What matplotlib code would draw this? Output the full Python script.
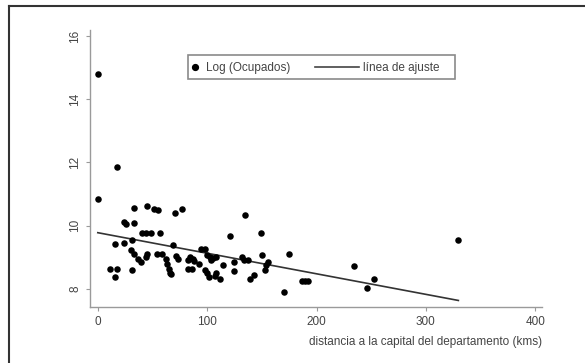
import numpy as np
import matplotlib.pyplot as plt
from matplotlib.lines import Line2D
from matplotlib.patches import Rectangle

plt.rcParams['font.family'] = ['Liberation Sans', 'DejaVu Sans']

# distancia a la capital (kms) y log de ocupados por municipio
distancia = [0, 0, 17.4, 15.7, 11.6, 17.4, 15.7, 23.9, 25.9, 32.8,
             33.4, 23.9, 31.7, 30.0, 33.4, 36.9, 39.6, 43.7, 44.7, 31.7,
             40.3, 44.4, 48.8, 44.7, 51.5, 55.3, 57.3, 53.9, 58.4, 62.5,
             63.5, 64.8, 65.9, 66.9, 70.3, 76.8, 68.6, 71.7, 73.7, 82.9,
             84.6, 87.0, 88.1, 82.9, 85.7, 92.5, 94.2, 97.6, 100.0, 102.7,
             105.1, 107.8, 103.4, 97.6, 100.0, 101.7, 106.8, 108.5, 111.3, 114.7,
             120.5, 124.6, 124.6, 131.7, 134.8, 134.1, 136.9, 139.2, 142.7, 149.5,
             150.5, 152.9, 153.9, 155.3, 170.0, 175.1, 187.0, 189.8, 192.2, 234.1,
             246.1, 252.6, 329.7]
log_ocupados = [14.80, 10.83, 11.86, 9.41, 8.64, 8.64, 8.38, 10.12, 10.05, 10.09,
                10.56, 9.46, 9.56, 9.22, 9.12, 8.96, 8.85, 9.01, 9.12, 8.61,
                9.77, 9.77, 9.77, 10.62, 10.54, 10.49, 9.77, 9.12, 9.12, 8.96,
                8.80, 8.64, 8.51, 8.46, 10.41, 10.52, 9.40, 9.03, 8.96, 8.91,
                9.01, 8.96, 8.88, 8.64, 8.64, 8.80, 9.28, 9.28, 9.07, 9.01,
                8.99, 9.01, 8.91, 8.61, 8.49, 8.38, 8.40, 8.49, 8.30, 8.75,
                9.69, 8.85, 8.57, 9.01, 10.33, 8.91, 8.93, 8.30, 8.43, 9.78,
                9.07, 8.59, 8.75, 8.85, 7.90, 9.10, 8.25, 8.25, 8.25, 8.72,
                8.04, 8.33, 9.54]

# recta de ajuste
ajuste_intercepto = 9.78
ajuste_pendiente = -0.0065

xticks = [0, 100, 200, 300, 400]
yticks = [8, 10, 12, 14, 16]

W, H = 585, 363
fig = plt.figure(figsize=(W / 100, H / 100), dpi=100)
ax = fig.add_axes([89.5 / W, 1 - 307 / H, (541.8 - 89.5) / W, (307 - 30) / H])

def fx(px):
    return px / W

def fy(py):
    return 1 - py / H

ax.scatter(distancia, log_ocupados, s=22, color='black', linewidths=0, zorder=3)
xfit = np.array([min(distancia), max(distancia)])
ax.plot(xfit, ajuste_intercepto + ajuste_pendiente * xfit, color='#333333', lw=1.2, zorder=2)

ax.set_xlim(-7.6, 406)
ax.set_ylim(7.43, 16.19)
ax.set_xticks(xticks)
ax.set_yticks(yticks)
for side in ['top', 'right']:
    ax.spines[side].set_visible(False)
for side in ['left', 'bottom']:
    ax.spines[side].set_color('#9a9a9a')
    ax.spines[side].set_linewidth(1.0)
ax.tick_params(direction='out', length=3, width=0.8, color='#9a9a9a',
               labelsize=8.5, labelcolor='#444444')
ax.tick_params(axis='y', pad=3)
for lab in ax.get_yticklabels():
    lab.set_rotation(90)
    lab.set_va('center')

ax.set_xlabel('distancia a la capital del departamento (kms)', loc='right',
              fontsize=8.5, color='#444444', labelpad=6)

# leyenda
fig.patches.append(Rectangle((fx(188), fy(79)), fx(455) - fx(188), fy(55) - fy(79),
                             transform=fig.transFigure, facecolor='white',
                             edgecolor='#8a8a8a', linewidth=1.2))
fig.lines.append(Line2D([fx(195)], [fy(67)], marker='o', markersize=4.2, color='black',
                        linestyle='none', transform=fig.transFigure))
fig.text(fx(206.5), fy(67.5), 'Log (Ocupados)', fontsize=8.5, color='#444444',
         va='center', ha='left')
fig.lines.append(Line2D([fx(315), fx(359)], [fy(67), fy(67)], color='#444444',
                        lw=1.2, transform=fig.transFigure))
fig.text(fx(363), fy(67.5), 'línea de ajuste', fontsize=8.5, color='#444444',
         va='center', ha='left')

# marco exterior
fig.lines.append(Line2D([fx(9), fx(585)], [fy(5.5), fy(5.5)], color='#333333', lw=1.5,
                        transform=fig.transFigure))
fig.lines.append(Line2D([fx(9), fx(9)], [fy(5.5), fy(363)], color='#333333', lw=1.5,
                        transform=fig.transFigure))

fig.savefig('out.png', dpi=100)
